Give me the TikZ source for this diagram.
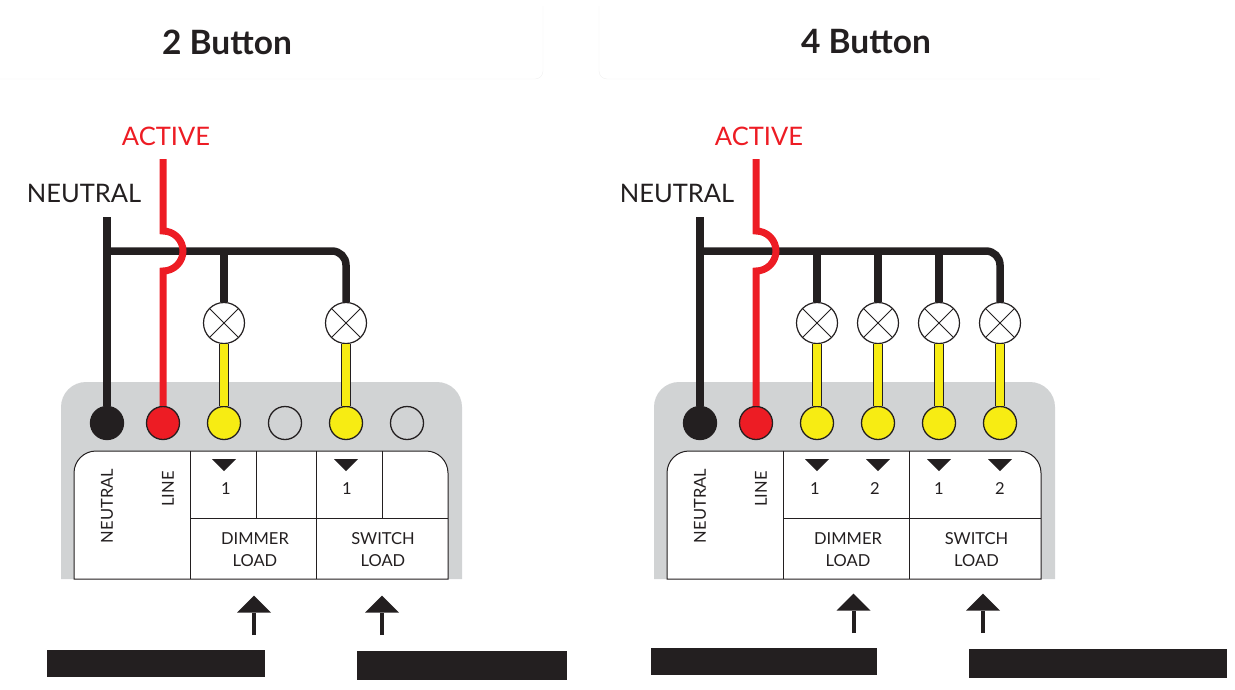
\documentclass[tikz,border=0pt]{standalone}
\usepackage{fontspec}
\setmainfont{Lato}
\usetikzlibrary{positioning,shapes.geometric}

\definecolor{wireblack}{HTML}{231F20}
\definecolor{wirered}{HTML}{ED1C24}
\definecolor{wireyellow}{HTML}{F7EC13}
\definecolor{panelgrey}{HTML}{D1D3D4}
\definecolor{cardline}{HTML}{F0F0F0}

\tikzset{
    terminal/.style={circle,draw=wireblack,line width=1.3pt,minimum size=33pt,inner sep=0pt},
    lamp/.style={circle,draw=wireblack,fill=white,line width=1.2pt,minimum size=41pt,inner sep=0pt,
        path picture={
            \draw[wireblack,line width=1pt] (path picture bounding box.north west) -- (path picture bounding box.south east);
            \draw[wireblack,line width=1pt] (path picture bounding box.south west) -- (path picture bounding box.north east);
        }},
    blackwire/.style={draw=wireblack,line width=7.5pt},
    redwire/.style={draw=wirered,line width=7pt},
    yellowwire/.style={draw=wireblack,line width=1.2pt,double=wireyellow,double distance=8pt},
    mark tri/.style={isosceles triangle,isosceles triangle apex angle=90,shape border rotate=-90,fill=wireblack,
        inner sep=0pt,minimum width=24pt,minimum height=11pt},
    cellline/.style={draw=wireblack,line width=1pt},
    biglabel/.style={font=\fontsize{25.5}{25.5}\selectfont,inner sep=0pt},
    title/.style={font=\fontsize{33.5}{33.5}\selectfont\bfseries,text=wireblack,inner sep=0pt},
    smalllabel/.style={font=\fontsize{16.5}{22}\selectfont,text=wireblack,inner sep=0pt,align=center},
    cover/.style={fill=wireblack,draw=none},
    stem/.style={draw=wireblack,line width=4pt},
    uptip/.style={isosceles triangle,isosceles triangle apex angle=90,shape border rotate=90,fill=wireblack,
        inner sep=0pt,minimum width=34pt,minimum height=17pt},
}

\begin{document}
\begin{tikzpicture}[x=1pt,y=1pt,on grid]
    \useasboundingbox (0,0) rectangle (1235,-689);

    % title cards
    \draw[cardline] (543,-6) [rounded corners=8pt] -- (543,-79) -- (0,-79);
    \draw[cardline] (599,-6) [rounded corners=8pt] -- (599,-79) -- (1100,-79);
    \node[title] (t1) at (227,-42) {2 Button};
    \node[title] (t2) at (866,-42) {4 Button};

    % 2 button
    \fill[panelgrey] (61,-579) [rounded corners=25pt] -- (61,-382) -- (462,-382) [sharp corners] -- (462,-579) -- cycle;
    \draw[cellline,fill=white] (74,-579) [rounded corners=22pt] -- (74,-451) -- (448,-451) [sharp corners] -- (448,-579) -- cycle;

    \node[terminal,fill=wireblack] (a1) at (107,-423) {};
    \node[terminal,fill=wirered,right=56pt of a1] (a2) {};
    \node[terminal,fill=wireyellow,right=61pt of a2] (a3) {};
    \node[terminal,right=61pt of a3] (a4) {};
    \node[terminal,fill=wireyellow,right=61pt of a4] (a5) {};
    \node[terminal,right=61pt of a5] (a6) {};
    \node[lamp,above=100pt of a3] (b1) {};
    \node[lamp,above=100pt of a5] (b2) {};

    \coordinate[above=206pt of a1] (n1);
    \coordinate[above=264pt of a2] (r1);
    \coordinate[above=192pt of a2] (r2);
    \coordinate[above=152pt of a2] (r3);
    \coordinate[above=172pt of a1] (j1);
    \coordinate[above=172pt of a5] (j2);
    \coordinate[above=172pt of a3] (j3);

    \draw[blackwire] (n1) -- (a1);
    \draw[blackwire,rounded corners=14pt] (j1) -- (j2) -- (b2);
    \draw[blackwire] (j3) -- (b1);
    \draw[redwire] (r1) -- (r2) arc[start angle=90,end angle=-90,radius=20pt] -- (r3) -- (a2);
    \draw[yellowwire] (b1) -- (a3);
    \draw[yellowwire] (b2) -- (a5);

    \node[biglabel,text=wireblack] (l1) at (84,-193) {NEUTRAL};
    \node[biglabel,text=wirered] (l2) at (166,-136) {ACTIVE};

    \coordinate (e1) at (190.5,-451);
    \coordinate (e2) at (190.5,-579);
    \coordinate (e3) at (256.5,-451);
    \coordinate (e4) at (256.5,-518.5);
    \coordinate (e5) at (316.5,-451);
    \coordinate (e6) at (316.5,-579);
    \coordinate (e7) at (382.5,-451);
    \coordinate (e8) at (382.5,-518.5);
    \coordinate (e9) at (190.5,-518.5);
    \coordinate (e10) at (448,-518.5);
    \draw[cellline] (e1) -- (e2);
    \draw[cellline] (e3) -- (e4);
    \draw[cellline] (e5) -- (e6);
    \draw[cellline] (e7) -- (e8);
    \draw[cellline] (e9) -- (e10);

    \node[mark tri] (m1) at (224,-464) {};
    \node[mark tri] (m2) at (346,-464) {};
    \node[smalllabel] (d1) at (226,-489) {1};
    \node[smalllabel] (d2) at (347,-489) {1};
    \node[smalllabel,rotate=90] (s1) at (107,-506) {NEUTRAL};
    \node[smalllabel,rotate=90] (s2) at (168,-489) {LINE};
    \node[smalllabel] (s3) at (255,-550) {DIMMER\\LOAD};
    \node[smalllabel] (s4) at (383,-550) {SWITCH\\LOAD};

    \node[uptip] (u1) at (254,-605.5) {};
    \node[uptip] (u2) at (382,-605.5) {};
    \coordinate (v1) at (254,-635);
    \coordinate (v2) at (382,-635);
    \draw[stem] (v1) -- (u1.south);
    \draw[stem] (v2) -- (u2.south);

    \node[cover,minimum width=218pt,minimum height=27pt] (k1) at (156,-663.5) {};
    \node[cover,minimum width=210pt,minimum height=29pt] (k2) at (462,-665.5) {};

    % 4 button
    \fill[panelgrey] (654,-579) [rounded corners=25pt] -- (654,-382) -- (1055,-382) [sharp corners] -- (1055,-579) -- cycle;
    \draw[cellline,fill=white] (667,-579) [rounded corners=22pt] -- (667,-451) -- (1041,-451) [sharp corners] -- (1041,-579) -- cycle;

    \node[terminal,fill=wireblack] (c1) at (700,-423) {};
    \node[terminal,fill=wirered,right=56pt of c1] (c2) {};
    \node[terminal,fill=wireyellow,right=61pt of c2] (c3) {};
    \node[terminal,fill=wireyellow,right=61pt of c3] (c4) {};
    \node[terminal,fill=wireyellow,right=61pt of c4] (c5) {};
    \node[terminal,fill=wireyellow,right=61pt of c5] (c6) {};
    \node[lamp,above=100pt of c3] (f1) {};
    \node[lamp,above=100pt of c4] (f2) {};
    \node[lamp,above=100pt of c5] (f3) {};
    \node[lamp,above=100pt of c6] (f4) {};

    \coordinate[above=206pt of c1] (n2);
    \coordinate[above=264pt of c2] (r4);
    \coordinate[above=192pt of c2] (r5);
    \coordinate[above=152pt of c2] (r6);
    \coordinate[above=172pt of c1] (j4);
    \coordinate[above=172pt of c6] (j5);
    \coordinate[above=172pt of c3] (j6);
    \coordinate[above=172pt of c4] (j7);
    \coordinate[above=172pt of c5] (j8);

    \draw[blackwire] (n2) -- (c1);
    \draw[blackwire,rounded corners=14pt] (j4) -- (j5) -- (f4);
    \draw[blackwire] (j6) -- (f1);
    \draw[blackwire] (j7) -- (f2);
    \draw[blackwire] (j8) -- (f3);
    \draw[redwire] (r4) -- (r5) arc[start angle=90,end angle=-90,radius=20pt] -- (r6) -- (c2);
    \draw[yellowwire] (f1) -- (c3);
    \draw[yellowwire] (f2) -- (c4);
    \draw[yellowwire] (f3) -- (c5);
    \draw[yellowwire] (f4) -- (c6);

    \node[biglabel,text=wireblack] (l3) at (677,-193) {NEUTRAL};
    \node[biglabel,text=wirered] (l4) at (759,-136) {ACTIVE};

    \coordinate (g1) at (783.5,-451);
    \coordinate (g2) at (783.5,-579);
    \coordinate (g3) at (909.5,-451);
    \coordinate (g4) at (909.5,-579);
    \coordinate (g5) at (783.5,-518.5);
    \coordinate (g6) at (1041,-518.5);
    \draw[cellline] (g1) -- (g2);
    \draw[cellline] (g3) -- (g4);
    \draw[cellline] (g5) -- (g6);

    \node[mark tri] (m3) at (817,-464) {};
    \node[mark tri] (m4) at (878,-464) {};
    \node[mark tri] (m5) at (939,-464) {};
    \node[mark tri] (m6) at (1000,-464) {};
    \node[smalllabel] (d3) at (815,-489) {1};
    \node[smalllabel] (d4) at (875,-489) {2};
    \node[smalllabel] (d5) at (939,-489) {1};
    \node[smalllabel] (d6) at (1000,-489) {2};
    \node[smalllabel,rotate=90] (s5) at (700,-506) {NEUTRAL};
    \node[smalllabel,rotate=90] (s6) at (761,-489) {LINE};
    \node[smalllabel] (s7) at (848,-550) {DIMMER\\LOAD};
    \node[smalllabel] (s8) at (976.5,-550) {SWITCH\\LOAD};

    \node[uptip] (u3) at (853.5,-603.5) {};
    \node[uptip] (u4) at (983,-603.5) {};
    \coordinate (v3) at (853.5,-633);
    \coordinate (v4) at (983,-633);
    \draw[stem] (v3) -- (u3.south);
    \draw[stem] (v4) -- (u4.south);

    \node[cover,minimum width=226pt,minimum height=27pt] (k3) at (764,-661.5) {};
    \node[cover,minimum width=258pt,minimum height=29pt] (k4) at (1098,-663.5) {};
\end{tikzpicture}
\end{document}
